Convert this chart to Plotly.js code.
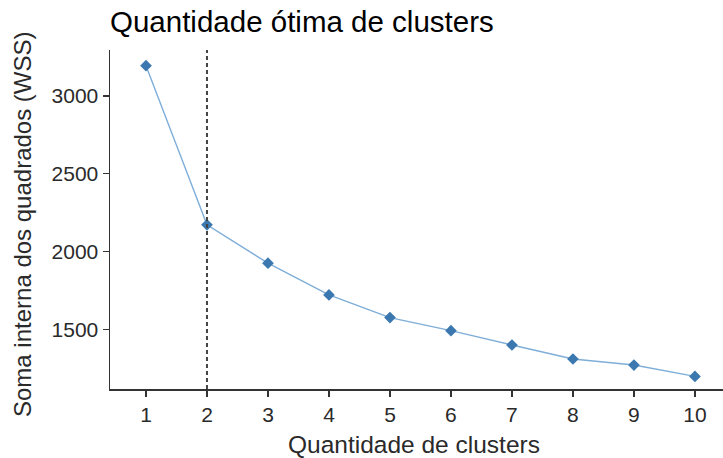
<!DOCTYPE html>
<html><head><meta charset="utf-8">
<script src="https://cdn.plot.ly/plotly-3.0.1.min.js"></script>
<style>body{margin:0;padding:0;background:#fff}#chart{width:723px;height:458px}</style>
</head><body><div id="chart"></div>
<script>
const clusters = [1,2,3,4,5,6,7,8,9,10];
const wss = [3195,2172,1925,1721,1575,1491,1399,1309,1270,1197];
const optimalK = 2;
const tickLabels = ['1','2','3','4','5','6','7','8','9','10'];
const yTicks = [1500,2000,2500,3000];
const titleText = 'Quantidade ótima de clusters';
const xTitle = 'Quantidade de clusters';
const yTitle = 'Soma interna dos quadrados (WSS)';

const data = [{
  x: clusters, y: wss, type: 'scatter', mode: 'lines+markers',
  line: {color: '#7eaed8', width: 1.4},
  marker: {symbol: 'diamond', size: 9, color: '#3b78b0'},
  hoverinfo: 'x+y'
}];
const L = 110, T = 50, B = 69, W = 723, H = 458;
const pw = W - L, ph = H - T - B;
const layout = {
  width: W, height: H,
  margin: {l: L, r: 0, t: T, b: B},
  paper_bgcolor: '#fff', plot_bgcolor: '#fff',
  font: {family: 'Liberation Sans, Arial, sans-serif', color: '#1a1a1a'},
  showlegend: false,
  title: {text: titleText, x: 0, xref: 'paper', xanchor: 'left', y: 0.952, yanchor: 'middle', yref: 'container', font: {size: 29.5, color: '#000'}},
  xaxis: {
    range: [0.41, 10.46], tickvals: clusters, ticktext: tickLabels,
    showgrid: false, zeroline: false, showline: true, linecolor: '#333', linewidth: 1.5,
    ticks: 'outside', ticklen: 6, tickcolor: '#333', tickwidth: 1.2,
    tickfont: {size: 21, color: '#2a2a2a'}
  },
  yaxis: {
    range: [1116, 3296], tickvals: yTicks,
    showgrid: false, zeroline: false, showline: true, linecolor: '#333', linewidth: 1.5,
    ticks: 'outside', ticklen: 6, tickcolor: '#333', tickwidth: 1.2,
    tickfont: {size: 21, color: '#2a2a2a'}
  },
  annotations: [
    {text: xTitle, xref: 'paper', yref: 'paper', x: (414 - L) / pw, y: -(444 - (T + ph)) / ph,
     xanchor: 'center', yanchor: 'middle', showarrow: false, font: {size: 24.5, color: '#2a2a2a'}},
    {text: yTitle, xref: 'paper', yref: 'paper', x: -(L - 22) / pw, y: 1 - (224 - T) / ph,
     xanchor: 'center', yanchor: 'middle', textangle: -90, showarrow: false, font: {size: 24, color: '#2a2a2a'}}
  ],
  shapes: [{type: 'line', xref: 'x', yref: 'paper', x0: optimalK, x1: optimalK, y0: 0, y1: 1,
    line: {color: '#444', width: 2, dash: '4px,3px'}}]
};
Plotly.newPlot('chart', data, layout, {displayModeBar: false, staticPlot: true});
</script></body></html>
